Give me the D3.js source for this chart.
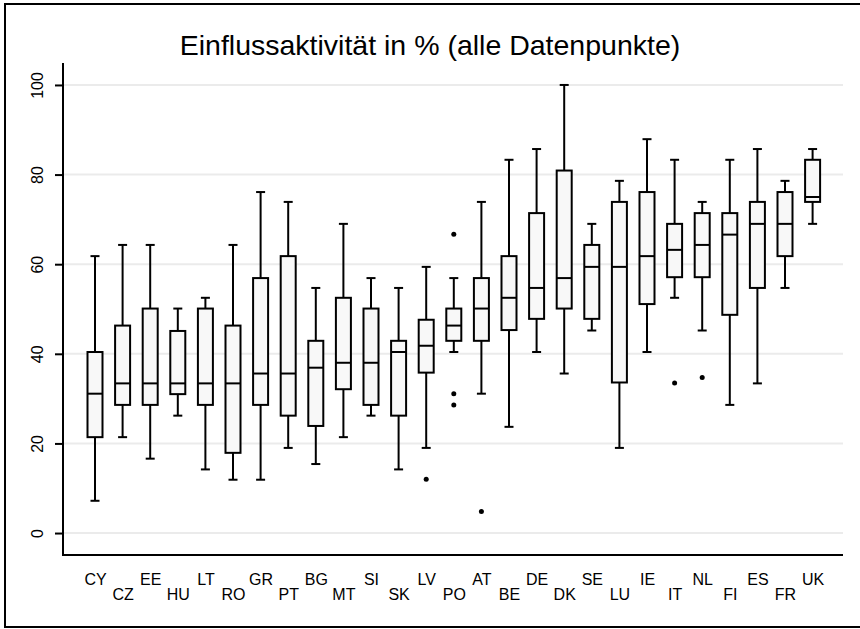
<!DOCTYPE html>
<html>
<head>
<meta charset="utf-8">
<script src="https://cdn.jsdelivr.net/npm/d3@7"></script>
<style>
  html, body { margin: 0; padding: 0; background: #fff; }
  svg { display: block; font-family: "Liberation Sans", Arial, Helvetica, sans-serif; }
</style>
</head>
<body>
<svg id="chart" width="860" height="629"></svg>
<script>
// ---- data ----
const title = "Einflussaktivität in % (alle Datenpunkte)";
const categories = ["CY","CZ","EE","HU","LT","RO","GR","PT","BG","MT","SI","SK","LV","PO","AT","BE","DE","DK","SE","LU","IE","IT","NL","FI","ES","FR","UK"];
const whiskerLow  = [7.2, 21.4, 16.6, 26.2, 14.2, 11.9, 11.9, 19.0, 15.4, 21.4, 26.2, 14.2, 19.0, 40.4, 31.1, 23.7, 40.4, 35.6, 45.2, 19.0, 40.4, 52.5, 45.2, 28.6, 33.4, 54.7, 69.0];
const q1          = [21.4, 28.6, 28.6, 31.0, 28.6, 17.9, 28.6, 26.2, 23.9, 32.1, 28.6, 26.2, 35.8, 42.9, 42.9, 45.3, 47.8, 50.1, 47.8, 33.6, 51.1, 57.1, 57.1, 48.7, 54.7, 61.8, 73.9];
const median      = [31.1, 33.4, 33.4, 33.4, 33.4, 33.4, 35.6, 35.6, 36.9, 38.0, 38.0, 40.4, 41.8, 46.3, 50.1, 52.5, 54.7, 56.9, 59.4, 59.4, 61.8, 63.2, 64.3, 66.6, 69.0, 69.0, 75.0];
const q3          = [40.4, 46.3, 50.1, 45.1, 50.1, 46.3, 56.9, 61.8, 42.9, 52.5, 50.1, 42.9, 47.6, 50.1, 56.9, 61.8, 71.4, 80.9, 64.3, 73.9, 76.1, 69.0, 71.4, 71.4, 73.9, 76.1, 83.3];
const whiskerHigh = [61.8, 64.3, 64.3, 50.1, 52.5, 64.3, 76.1, 73.9, 54.7, 69.0, 56.9, 54.7, 59.4, 56.9, 73.9, 83.3, 85.7, 100, 69.0, 78.6, 87.9, 83.3, 73.9, 83.3, 85.7, 78.6, 85.7];
const outlierCats   = ["LV", "PO", "PO", "PO", "AT", "IT", "NL"];
const outlierValues = [12.0, 66.7, 31.1, 28.6, 4.8, 33.5, 34.7];
const yTicks = [0, 20, 40, 60, 80, 100];
const yDomain = [-4.9, 104.9];

// ---- layout ----
const svg = d3.select("#chart");
const W = 860, H = 629;
const plot = { left: 63, right: 843, top: 63, bottom: 555 };

// outer frame
svg.append("rect")
  .attr("x", 5).attr("y", 4)
  .attr("width", W + 10).attr("height", 623)
  .attr("fill", "none").attr("stroke", "#000").attr("stroke-width", 2);

const x = d3.scalePoint()
  .domain(categories)
  .range([plot.left + 32, plot.left + 749.6]);

const y = d3.scaleLinear()
  .domain(yDomain)
  .range([plot.bottom, plot.top]);

// gridlines
svg.append("g")
  .selectAll("line")
  .data(yTicks)
  .join("line")
  .attr("x1", plot.left).attr("x2", plot.right)
  .attr("y1", d => y(d)).attr("y2", d => y(d))
  .attr("stroke", "#ebebeb").attr("stroke-width", 2);

// y axis
const yAxis = svg.append("g")
  .attr("transform", `translate(${plot.left},0)`)
  .call(d3.axisLeft(y).tickValues(yTicks).tickSize(8).tickSizeOuter(0).tickFormat(d3.format("d")));
yAxis.select(".domain").attr("stroke", "#000").attr("stroke-width", 2)
  .attr("d", `M0,${plot.top}V${plot.bottom}`);
yAxis.selectAll(".tick line").attr("stroke", "#000").attr("stroke-width", 2);
yAxis.selectAll(".tick text")
  .attr("x", null).attr("dy", null)
  .attr("font-size", 16)
  .attr("font-family", "Liberation Sans, Arial, sans-serif")
  .attr("fill", "#000")
  .attr("text-anchor", "middle")
  .attr("transform", "translate(-20,0) rotate(-90)");

// x axis line (no ticks)
const xAxis = svg.append("g")
  .attr("transform", `translate(0,${plot.bottom})`)
  .call(d3.axisBottom(x).tickSize(0).tickSizeOuter(0));
xAxis.select(".domain").attr("stroke", "#000").attr("stroke-width", 2)
  .attr("d", `M${plot.left - 1},0H${plot.right}`);
xAxis.selectAll(".tick text")
  .attr("font-size", 16)
  .attr("font-family", "Liberation Sans, Arial, sans-serif")
  .attr("fill", "#000")
  .attr("dy", null)
  .attr("y", (d, i) => i % 2 === 0 ? 30 : 45);

// boxes
const boxW = 15, capW = 9;
const boxes = categories.map((c, i) => ({
  c, lo: whiskerLow[i], q1: q1[i], med: median[i], q3: q3[i], hi: whiskerHigh[i]
}));
const g = svg.append("g").attr("stroke", "#000").attr("stroke-width", 2);

// whiskers
g.selectAll(".wl").data(boxes).join("line")
  .attr("x1", d => x(d.c)).attr("x2", d => x(d.c))
  .attr("y1", d => y(d.lo)).attr("y2", d => y(d.q1));
g.selectAll(".wh").data(boxes).join("line")
  .attr("x1", d => x(d.c)).attr("x2", d => x(d.c))
  .attr("y1", d => y(d.q3)).attr("y2", d => y(d.hi));
// caps
g.selectAll(".cl").data(boxes).join("line")
  .attr("x1", d => x(d.c) - capW / 2).attr("x2", d => x(d.c) + capW / 2)
  .attr("y1", d => y(d.lo)).attr("y2", d => y(d.lo));
g.selectAll(".ch").data(boxes).join("line")
  .attr("x1", d => x(d.c) - capW / 2).attr("x2", d => x(d.c) + capW / 2)
  .attr("y1", d => y(d.hi)).attr("y2", d => y(d.hi));
// box
g.selectAll(".bx").data(boxes).join("rect")
  .attr("x", d => x(d.c) - boxW / 2).attr("width", boxW)
  .attr("y", d => y(d.q3)).attr("height", d => y(d.q1) - y(d.q3))
  .attr("fill", "#f8f8f8");
// median
g.selectAll(".md").data(boxes).join("line")
  .attr("x1", d => x(d.c) - boxW / 2).attr("x2", d => x(d.c) + boxW / 2)
  .attr("y1", d => y(d.med)).attr("y2", d => y(d.med));

// outliers
svg.append("g").selectAll("circle")
  .data(outlierCats.map((c, i) => ({ c, v: outlierValues[i] })))
  .join("circle")
  .attr("cx", d => x(d.c)).attr("cy", d => y(d.v))
  .attr("r", 2.5).attr("fill", "#000");

// title
svg.append("text")
  .attr("x", 430).attr("y", 55)
  .attr("text-anchor", "middle")
  .attr("font-size", 28.5)
  .attr("fill", "#000")
  .text(title);
</script>
</body>
</html>
